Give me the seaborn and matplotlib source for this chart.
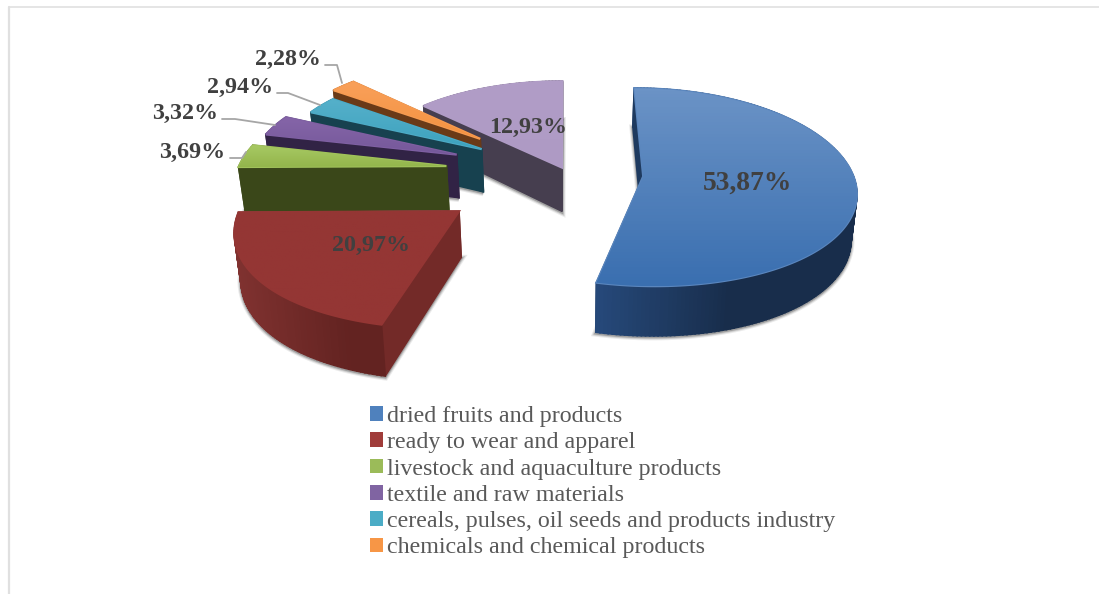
import numpy as np
import matplotlib
matplotlib.use('Agg')
import matplotlib.pyplot as plt
from matplotlib.colors import LinearSegmentedColormap
from matplotlib.patches import Patch, Polygon
import seaborn as sns

categories = ['dried fruits and products', 'ready to wear and apparel',
              'livestock and aquaculture products', 'textile and raw materials',
              'cereals, pulses, oil seeds and products industry',
              'chemicals and chemical products', 'other']
values = [53.87, 20.97, 3.69, 3.32, 2.94, 2.28, 12.93]
explode = [0.37, 0.62, 0.58, 0.565, 0.48, 0.555, 0.05]

legend_colors = ['#4f81bd', '#a03c3a', '#9bbb59', '#8064a2', '#4bacc6', '#f79646']
top_start = ['#6b93c6', '#943634', '#a8c963', '#8565a8', '#55b0ca', '#f9a05a', '#b19dc7']
top_end = ['#3a6fb0', '#943634', '#93b54c', '#75589a', '#3da2be', '#f49240', '#ae9ac4']
wall_left = ['#26497a', '#803230', '#3a4719', '#312345', '#1c4a58', '#6a3a17', '#463e4f']
wall_right = ['#182d4b', '#632321', '#3a4719', '#312345', '#17414f', '#6a3a17', '#463e4f']
edge_wall = ['#1e3a5f', '#732a28', '#3a4719', '#312345', '#17414f', '#6a3a17', '#463e4f']

# label centres and elbow lines, in pixels
label_pos = [(748, 183), (371, 245), (192, 152), (185, 113), (240, 87), (288, 59), (528, 127)]
leaders = {2: [(230, 158), (242, 158), (246, 152)],
           3: [(222, 119), (235, 119), (275, 125)],
           4: [(277, 93), (288, 93), (320, 105)],
           5: [(325, 65), (337, 65), (342, 83)]}

CX, CY, R, KR = 566, 172, 209, 98

sns.set_theme(style='white')
plt.rcParams['font.family'] = ['Liberation Serif', 'DejaVu Serif']

fig = plt.figure(figsize=(10.99, 5.94), dpi=100)
ax = fig.add_axes([0, 0, 1, 1])

wedges, _ = ax.pie(values, explode=explode, startangle=90, counterclock=False,
                   colors=sns.color_palette(top_start))


def project(x, y):
    # pie plane to pixels: y positive = far side, near side looks larger
    front = -y
    return CX + R * x / (1 - 0.13 * front), CY + KR * front * (1 + 0.11 * front)


def drop(x, y, px, py):
    # same point on the underside of the slab
    return CX + (px - CX) * 0.98, py + 44 + 5.5 * (-y)


def outline(w):
    t = np.radians(np.linspace(w.theta1, w.theta2, max(int(abs(w.theta2 - w.theta1)), 12)))
    x = np.r_[w.center[0], w.center[0] + w.r * np.cos(t), w.center[0]]
    y = np.r_[w.center[1], w.center[1] + w.r * np.sin(t), w.center[1]]
    return x, y


z = 3
for i in [6, 5, 4, 3, 2, 1, 0]:
    w = wedges[i]
    w.set_visible(False)
    x, y = outline(w)
    px, py = project(x, y)
    bx, by = drop(x, y, px, py)

    # soft shadow under the slab
    for lw, a in [(5, 0.1), (3.5, 0.18), (2, 0.3)]:
        ax.fill(bx, by + 1, facecolor='none', edgecolor='#3c3c3c', lw=lw, alpha=a, zorder=z)
    z += 1

    # walls, far ones first
    n = len(x) - 1
    order = sorted(range(n), key=lambda j: y[j] + y[j + 1], reverse=True)
    xmin, xmax = px.min(), px.max()
    cmap = LinearSegmentedColormap.from_list('wall', [wall_left[i], wall_right[i], wall_right[i]])
    for j in order:
        if j == 0 or j == n - 1:
            col = edge_wall[i]
        else:
            col = cmap((px[j] - xmin) / (xmax - xmin))
        ax.fill([px[j], px[j + 1], bx[j + 1], bx[j]], [py[j], py[j + 1], by[j + 1], by[j]],
                facecolor=col, edgecolor=col, lw=1.2, zorder=z)
    z += 1

    # top face: solid base hides the wall edge, gradient goes over it
    cmap = LinearSegmentedColormap.from_list('top', [top_start[i], top_end[i]])
    ax.fill(px, py, facecolor=cmap(0.35), edgecolor=cmap(0.35), lw=1.6, zorder=z)
    z += 1
    face = Polygon(np.c_[px, py], closed=True, transform=ax.transData, facecolor='none', edgecolor='none')
    ax.add_patch(face)
    im = ax.imshow(np.linspace(0, 1, 64)[:, None], cmap=cmap, aspect='auto',
                   extent=(px.min(), px.max(), py.max(), py.min()), zorder=z)
    im.set_clip_path(face)
    z += 1

ax.set_xlim(0, 1099)
ax.set_ylim(594, 0)
ax.set_aspect('auto')
ax.axis('off')

# chart frame
ax.plot([9, 9], [594, 6.5], color='#e0e0e0', lw=1.6, zorder=1)
ax.plot([9, 1099], [6.5, 6.5], color='#e0e0e0', lw=1.2, zorder=1)

for i, pts in leaders.items():
    ax.plot(*zip(*pts), color='#a6a6a6', lw=1.3, zorder=z)
z += 1

for i, v in enumerate(values):
    txt = f'{v:.2f}%'.replace('.', ',')
    ax.text(*label_pos[i], txt, ha='center', va='center', fontweight='bold', color='#404040',
            fontsize=19.8 if i == 0 else 17.3, zorder=z)

handles = [Patch(facecolor=c, edgecolor='none') for c in legend_colors]
ax.legend(handles, categories[:6], loc='upper left', bbox_to_anchor=(370 / 1099, 1 - 406 / 594),
          frameon=False, fontsize=17.3, labelcolor='#595959', handlelength=0.56, handleheight=0.56,
          handletextpad=0.16, labelspacing=0.22, borderpad=0, borderaxespad=0)

fig.savefig('out.png', dpi=100)
